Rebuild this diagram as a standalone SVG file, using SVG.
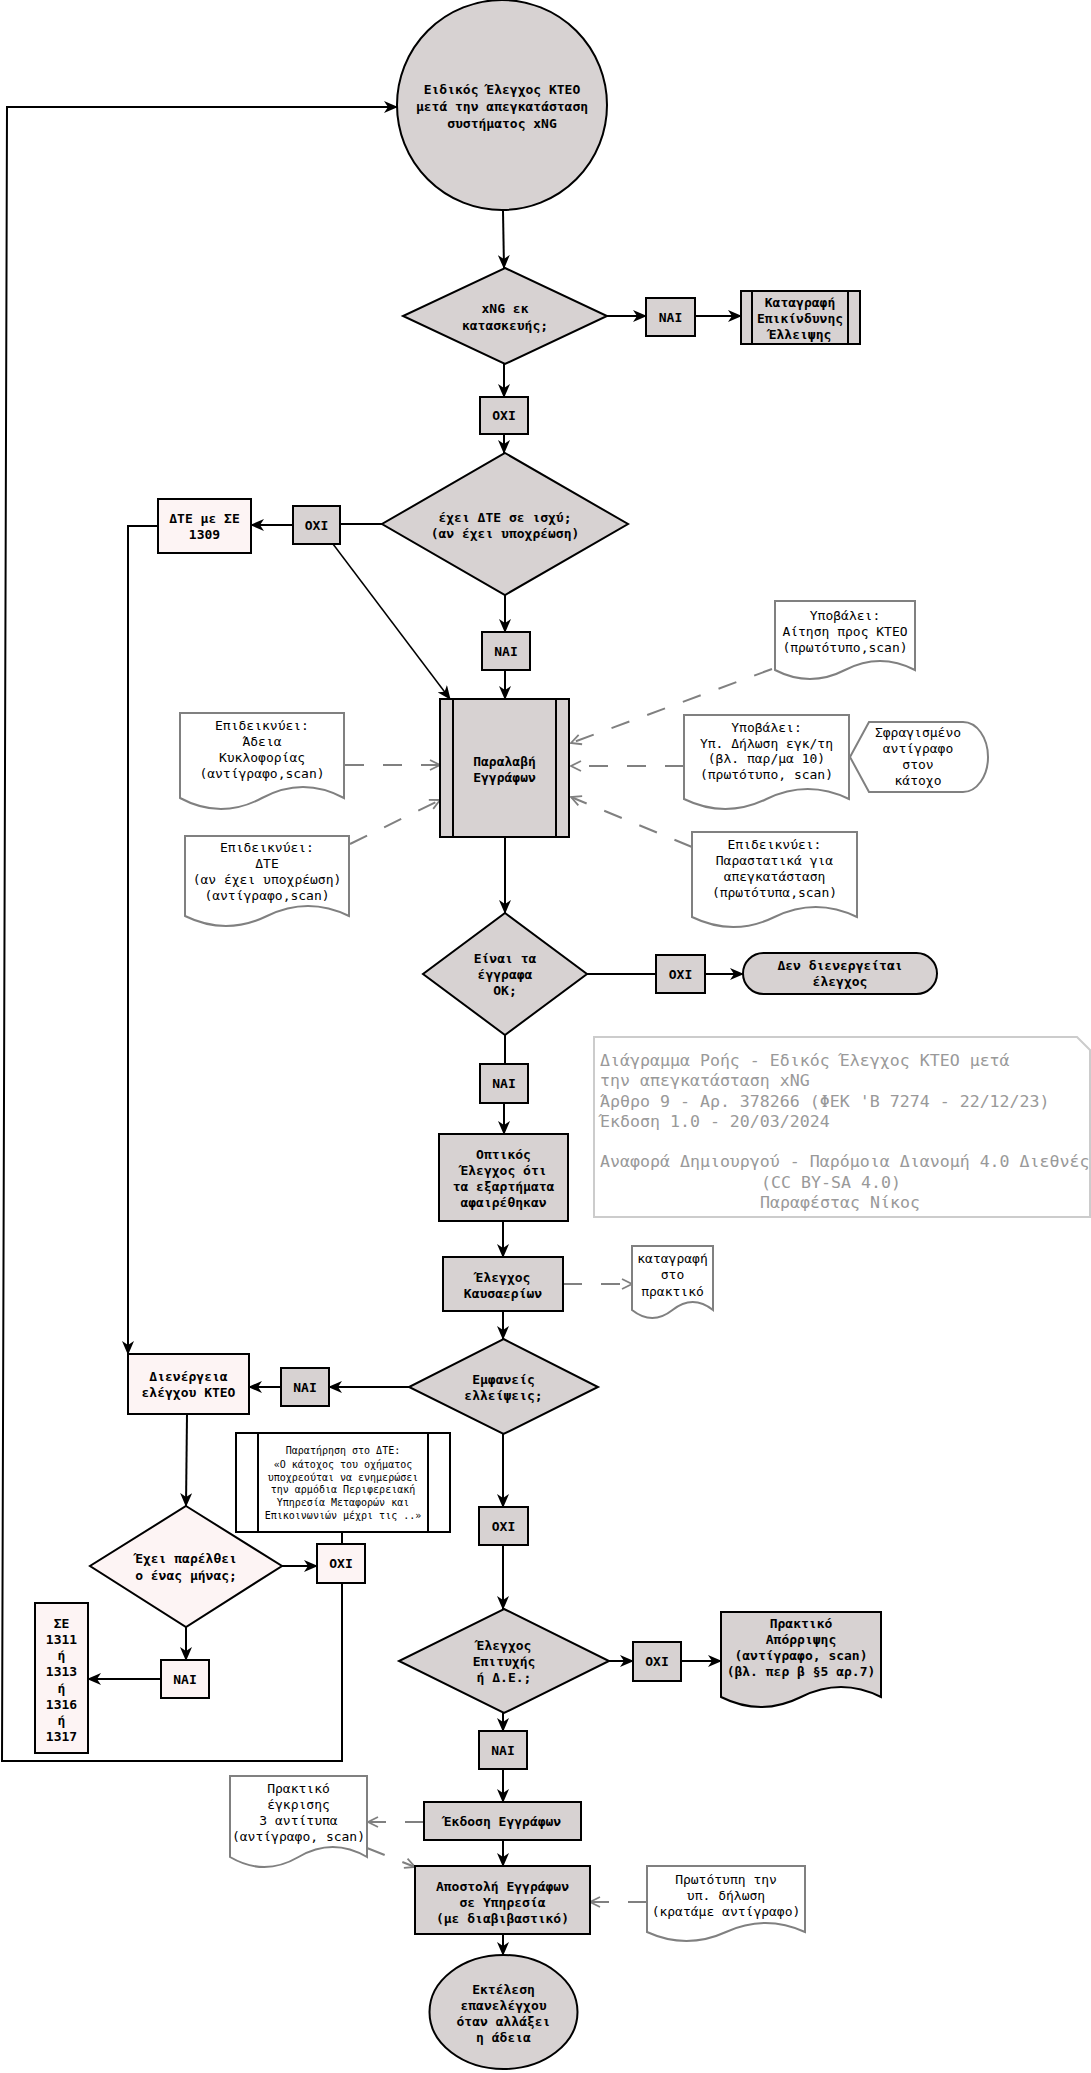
<svg xmlns="http://www.w3.org/2000/svg" width="1091" height="2073" viewBox="0 0 1091 2073">
<style>
.g{fill:#d7d2d2;stroke:#000;stroke-width:2}
.p{fill:#fdf4f4;stroke:#000;stroke-width:2}
.w{fill:#fff;stroke:#000;stroke-width:2}
.d{fill:#fff;stroke:#808080;stroke-width:2}
.c{fill:none;stroke:#000;stroke-width:2}
.ct{fill:none;stroke:#000;stroke-width:1.5}
.dc{fill:none;stroke:#808080;stroke-width:2;stroke-dasharray:19 19}
.nb{font-family:'DejaVu Sans Mono',monospace;font-weight:bold;font-size:13px;text-anchor:middle;dominant-baseline:central;fill:#000}
.nr{font-family:'DejaVu Sans Mono',monospace;font-size:13px;text-anchor:middle;dominant-baseline:central;fill:#000}
.sm{font-family:'DejaVu Sans Mono',monospace;font-size:10px;text-anchor:middle;dominant-baseline:central;fill:#000}
.an{font-family:'DejaVu Sans Mono',monospace;font-size:16.6px;dominant-baseline:central;fill:#999}
</style>
<defs>
<marker id="ah" viewBox="0 0 14 12" refX="13" refY="6" markerWidth="14" markerHeight="12" markerUnits="userSpaceOnUse" orient="auto"><path d="M0,0 L14,6 L0,12 L4,6 Z" fill="#000"/></marker>
<marker id="oa" viewBox="0 0 12 12" refX="11" refY="6" markerWidth="12" markerHeight="12" markerUnits="userSpaceOnUse" orient="auto"><path d="M1,1 L11,6 L1,11" fill="none" stroke="#808080" stroke-width="1.8"/></marker>
</defs>
<rect width="1091" height="2073" fill="#fff"/>

<g id="connectors">
<path class="c" d="M503,211 L504,268" marker-end="url(#ah)"/>
<path class="c" d="M607,316 L646,316" marker-end="url(#ah)"/>
<path class="c" d="M695,316 L741,316" marker-end="url(#ah)"/>
<path class="c" d="M504,364 L504,397" marker-end="url(#ah)"/>
<path class="c" d="M504,434 L504,453" marker-end="url(#ah)"/>
<path class="c" d="M382,524 L340,524"/>
<path class="c" d="M293,525 L251,525" marker-end="url(#ah)"/>
<path class="c" d="M158,526 L128,526 L128,1354" marker-end="url(#ah)"/>
<path class="ct" d="M333,544 L450,699" marker-end="url(#ah)"/>
<path class="c" d="M505,595 L505,632" marker-end="url(#ah)"/>
<path class="c" d="M505,670 L505,699" marker-end="url(#ah)"/>
<path class="c" d="M505,837 L505,913" marker-end="url(#ah)"/>
<path class="c" d="M587,974 L656,974"/>
<path class="c" d="M705,974 L743,974" marker-end="url(#ah)"/>
<path class="c" d="M505,1035 L505,1064"/>
<path class="c" d="M504,1103 L504,1134" marker-end="url(#ah)"/>
<path class="c" d="M503,1221 L503,1257" marker-end="url(#ah)"/>
<path class="c" d="M503,1311 L503,1339" marker-end="url(#ah)"/>
<path class="c" d="M409,1387 L329,1387" marker-end="url(#ah)"/>
<path class="c" d="M281,1387 L249,1387" marker-end="url(#ah)"/>
<path class="c" d="M187,1414 L186,1506" marker-end="url(#ah)"/>
<path class="c" d="M282,1566 L317,1566" marker-end="url(#ah)"/>
<path class="c" d="M342,1532 L342,1544"/>
<path class="c" d="M342,1583 L342,1761 L2,1761 L7,107 L397,107" marker-end="url(#ah)"/>
<path class="c" d="M186,1627 L186,1660" marker-end="url(#ah)"/>
<path class="c" d="M161,1679 L88,1679" marker-end="url(#ah)"/>
<path class="c" d="M503,1434 L503,1507" marker-end="url(#ah)"/>
<path class="c" d="M503,1545 L503,1609" marker-end="url(#ah)"/>
<path class="c" d="M609,1661 L633,1661" marker-end="url(#ah)"/>
<path class="c" d="M681,1661 L721,1661" marker-end="url(#ah)"/>
<path class="c" d="M503,1713 L503,1731" marker-end="url(#ah)"/>
<path class="c" d="M503,1769 L503,1802" marker-end="url(#ah)"/>
<path class="c" d="M503,1840 L503,1866" marker-end="url(#ah)"/>
<path class="c" d="M503,1934 L503,1955" marker-end="url(#ah)"/>
<path class="dc" d="M345,765 L440,765" marker-end="url(#oa)"/>
<path class="dc" d="M350,844 L440,800" marker-end="url(#oa)"/>
<path class="dc" d="M772,669 L571,743" marker-end="url(#oa)"/>
<path class="dc" d="M684,766 L571,766" marker-end="url(#oa)"/>
<path class="dc" d="M692,847 L571,797" marker-end="url(#oa)"/>
<path class="dc" d="M563,1284 L632,1284" marker-end="url(#oa)"/>
<path class="dc" d="M424,1822 L368,1822" marker-end="url(#oa)"/>
<path class="dc" d="M367,1848 L415,1867" marker-end="url(#oa)"/>
<path class="dc" d="M647,1902 L590,1902" marker-end="url(#oa)"/>
</g>

<g id="start">
<circle class="g" cx="502" cy="105" r="105"/>
<text class="nb" x="502" y="89">Ειδικός Έλεγχος ΚΤΕΟ</text>
<text class="nb" x="502" y="106">μετά την απεγκατάσταση</text>
<text class="nb" x="502" y="123">συστήματος xNG</text>
</g>
<g id="d-xng">
<polygon class="g" points="505,268 607,316 505,364 403,316"/>
<text class="nb" x="505" y="308">xNG εκ</text>
<text class="nb" x="505" y="325">κατασκευής;</text>
</g>
<g id="nai-1"><rect class="g" x="646" y="298" width="49" height="38"/><text class="nb" x="670.5" y="317">ΝΑΙ</text></g>
<g id="katagrafi">
<rect class="g" x="741" y="291" width="119" height="53"/>
<path class="c" d="M752,291 V344 M848,291 V344"/>
<text class="nb" x="800" y="302">Καταγραφή</text>
<text class="nb" x="800" y="318">Επικίνδυνης</text>
<text class="nb" x="800" y="334">Έλλειψης</text>
</g>
<g id="oxi-1"><rect class="g" x="480" y="397" width="48" height="37"/><text class="nb" x="504" y="415.5">ΟΧΙ</text></g>
<g id="d-dte">
<polygon class="g" points="505,453 628,524 505,595 382,524"/>
<text class="nb" x="505" y="517">έχει ΔΤΕ σε ισχύ;</text>
<text class="nb" x="505" y="533">(αν έχει υποχρέωση)</text>
</g>
<g id="oxi-2"><rect class="g" x="293" y="506" width="47" height="38"/><text class="nb" x="316.5" y="525">ΟΧΙ</text></g>
<g id="dte-1309">
<rect class="p" x="158" y="499" width="93" height="54"/>
<text class="nb" x="204.5" y="518">ΔΤΕ με ΣΕ</text>
<text class="nb" x="204.5" y="534">1309</text>
</g>
<g id="nai-2"><rect class="g" x="482" y="632" width="48" height="38"/><text class="nb" x="506" y="651">ΝΑΙ</text></g>
<g id="paralavi">
<rect class="g" x="440" y="699" width="129" height="138"/>
<path class="c" d="M453,699 V837 M556,699 V837"/>
<text class="nb" x="504.5" y="761">Παραλαβή</text>
<text class="nb" x="504.5" y="777">Εγγράφων</text>
</g>
<g id="doc-adeia">
<path class="d" d="M180,713 H344 V798 Q303,776 262,798 T180,798 Z"/>
<text class="nr" x="262" y="725">Επιδεικνύει:</text>
<text class="nr" x="262" y="741">Άδεια</text>
<text class="nr" x="262" y="757">Κυκλοφορίας</text>
<text class="nr" x="262" y="773">(αντίγραφο,scan)</text>
</g>
<g id="doc-dte">
<path class="d" d="M185,836 H349 V916 Q308,896 267,916 T185,916 Z"/>
<text class="nr" x="267" y="847">Επιδεικνύει:</text>
<text class="nr" x="267" y="863">ΔΤΕ</text>
<text class="nr" x="267" y="879">(αν έχει υποχρέωση)</text>
<text class="nr" x="267" y="895">(αντίγραφο,scan)</text>
</g>
<g id="doc-aitisi">
<path class="d" d="M775,601 H915 V670 Q880,652 845,670 T775,670 Z"/>
<text class="nr" x="845" y="615">Υποβάλει:</text>
<text class="nr" x="845" y="631">Αίτηση προς ΚΤΕΟ</text>
<text class="nr" x="845" y="647">(πρωτότυπο,scan)</text>
</g>
<g id="doc-dilosi">
<path class="d" d="M684,715 H849 V799 Q807.75,779 766.5,799 T684,799 Z"/>
<text class="nr" x="766.5" y="727">Υποβάλει:</text>
<text class="nr" x="766.5" y="743">Υπ. Δήλωση εγκ/τη</text>
<text class="nr" x="766.5" y="758">(βλ. παρ/μα 10)</text>
<text class="nr" x="766.5" y="774">(πρωτότυπο, scan)</text>
</g>
<g id="display-sfragismeno">
<path class="d" d="M850,757 L869,722 H963 A25,35 0 0 1 963,792 H869 Z"/>
<text class="nr" x="918" y="732">Σφραγισμένο</text>
<text class="nr" x="918" y="748">αντίγραφο</text>
<text class="nr" x="918" y="764">στον</text>
<text class="nr" x="918" y="780">κάτοχο</text>
</g>
<g id="doc-parastatika">
<path class="d" d="M692,832 H857 V917 Q815.75,897 774.5,917 T692,917 Z"/>
<text class="nr" x="774.5" y="844">Επιδεικνύει:</text>
<text class="nr" x="774.5" y="860">Παραστατικά για</text>
<text class="nr" x="774.5" y="876">απεγκατάσταση</text>
<text class="nr" x="774.5" y="892">(πρωτότυπα,scan)</text>
</g>
<g id="d-eggrafa">
<polygon class="g" points="505,913 587,974 505,1035 423,974"/>
<text class="nb" x="505" y="958">Είναι τα</text>
<text class="nb" x="505" y="974">έγγραφα</text>
<text class="nb" x="505" y="990">ΟΚ;</text>
</g>
<g id="oxi-3"><rect class="g" x="656" y="955" width="49" height="38"/><text class="nb" x="680.5" y="974">ΟΧΙ</text></g>
<g id="den-dienergeitai">
<rect class="g" x="743" y="953" width="194" height="41" rx="20.5"/>
<text class="nb" x="840" y="965">Δεν διενεργείται</text>
<text class="nb" x="840" y="981">έλεγχος</text>
</g>
<g id="nai-3"><rect class="g" x="480" y="1064" width="48" height="39"/><text class="nb" x="504" y="1083.5">ΝΑΙ</text></g>
<g id="optikos">
<rect class="g" x="439" y="1134" width="129" height="87"/>
<text class="nb" x="503.5" y="1154">Οπτικός</text>
<text class="nb" x="503.5" y="1170">Έλεγχος ότι</text>
<text class="nb" x="503.5" y="1186">τα εξαρτήματα</text>
<text class="nb" x="503.5" y="1202">αφαιρέθηκαν</text>
</g>
<g id="note-info">
<path d="M594,1037 H1077 L1090,1050 V1217 H594 Z" fill="#fff" stroke="#cccccc" stroke-width="2"/>
<text class="an" x="600" y="1060">Διάγραμμα Ροής - Εδικός Έλεγχος ΚΤΕΟ μετά</text>
<text class="an" x="600" y="1080">την απεγκατάσταση xNG</text>
<text class="an" x="600" y="1101">Άρθρο 9 - Αρ. 378266 (ΦΕΚ 'Β 7274 - 22/12/23)</text>
<text class="an" x="600" y="1121">Έκδοση 1.0 - 20/03/2024</text>
<text class="an" x="600" y="1161">Αναφορά Δημιουργού - Παρόμοια Διανομή 4.0 Διεθνές</text>
<text class="an" x="831" y="1182" text-anchor="middle">(CC BY-SA 4.0)</text>
<text class="an" x="840" y="1202" text-anchor="middle">Παραφέστας Νίκος</text>
</g>
<g id="kafsaerion">
<rect class="g" x="443" y="1257" width="120" height="54"/>
<text class="nb" x="503" y="1277">Έλεγχος</text>
<text class="nb" x="503" y="1293">Καυσαερίων</text>
</g>
<g id="doc-katagrafi">
<path class="d" d="M632,1246 H713 V1310 Q692.75,1294 672.5,1310 T632,1310 Z"/>
<text class="nr" x="672.5" y="1258">καταγραφή</text>
<text class="nr" x="672.5" y="1274">στο</text>
<text class="nr" x="672.5" y="1291">πρακτικό</text>
</g>
<g id="d-elleipseis">
<polygon class="g" points="503.5,1339 598,1387 503.5,1434 409,1387"/>
<text class="nb" x="503.5" y="1379">Εμφανείς</text>
<text class="nb" x="503.5" y="1395">ελλείψεις;</text>
</g>
<g id="nai-4"><rect class="g" x="281" y="1368" width="48" height="38"/><text class="nb" x="305" y="1387">ΝΑΙ</text></g>
<g id="dienergeia">
<rect class="p" x="128" y="1354" width="121" height="60"/>
<text class="nb" x="188.5" y="1376">Διενέργεια</text>
<text class="nb" x="188.5" y="1392">ελέγχου ΚΤΕΟ</text>
</g>
<g id="d-minas">
<polygon class="p" points="186,1506 282,1566 186,1627 90,1566"/>
<text class="nb" x="186" y="1558">Έχει παρέλθει</text>
<text class="nb" x="186" y="1575">ο ένας μήνας;</text>
</g>
<g id="oxi-5"><rect class="p" x="317" y="1544" width="48" height="39"/><text class="nb" x="341" y="1563.5">ΟΧΙ</text></g>
<g id="note-dte">
<rect class="w" x="236" y="1433" width="214" height="99"/>
<path class="c" d="M258,1433 V1532 M428,1433 V1532"/>
<text class="sm" x="343" y="1450">Παρατήρηση στο ΔΤΕ:</text>
<text class="sm" x="343" y="1464">«Ο κάτοχος του οχήματος</text>
<text class="sm" x="343" y="1477">υποχρεούται να ενημερώσει</text>
<text class="sm" x="343" y="1489">την αρμόδια Περιφερειακή</text>
<text class="sm" x="343" y="1502">Υπηρεσία Μεταφορών και</text>
<text class="sm" x="343" y="1515">Επικοινωνιών μέχρι τις ..»</text>
</g>
<g id="nai-5"><rect class="p" x="161" y="1660" width="48" height="38"/><text class="nb" x="185" y="1679">ΝΑΙ</text></g>
<g id="se-list">
<rect class="p" x="35" y="1603" width="53" height="150"/>
<text class="nb" x="61.5" y="1623">ΣΕ</text>
<text class="nb" x="61.5" y="1639">1311</text>
<text class="nb" x="61.5" y="1655">ή</text>
<text class="nb" x="61.5" y="1671">1313</text>
<text class="nb" x="61.5" y="1688">ή</text>
<text class="nb" x="61.5" y="1704">1316</text>
<text class="nb" x="61.5" y="1720">ή</text>
<text class="nb" x="61.5" y="1736">1317</text>
</g>
<g id="oxi-6"><rect class="g" x="479" y="1507" width="49" height="38"/><text class="nb" x="503.5" y="1526">ΟΧΙ</text></g>
<g id="d-epityxis">
<polygon class="g" points="504,1609 609,1661 504,1713 399,1661"/>
<text class="nb" x="504" y="1645">Έλεγχος</text>
<text class="nb" x="504" y="1661">Επιτυχής</text>
<text class="nb" x="504" y="1677">ή Δ.Ε.;</text>
</g>
<g id="oxi-7"><rect class="g" x="633" y="1642" width="48" height="39"/><text class="nb" x="657" y="1661.5">ΟΧΙ</text></g>
<g id="doc-aporripsi">
<path class="g" d="M721,1612 H881 V1697 Q841,1677 801,1697 T721,1697 Z"/>
<text class="nb" x="801" y="1623">Πρακτικό</text>
<text class="nb" x="801" y="1639">Απόρριψης</text>
<text class="nb" x="801" y="1655">(αντίγραφο, scan)</text>
<text class="nb" x="801" y="1671">(βλ. περ β §5 αρ.7)</text>
</g>
<g id="nai-6"><rect class="g" x="479" y="1731" width="48" height="38"/><text class="nb" x="503" y="1750">ΝΑΙ</text></g>
<g id="ekdosi">
<rect class="g" x="424" y="1802" width="157" height="38"/>
<text class="nb" x="502.5" y="1821">Έκδοση Εγγράφων</text>
</g>
<g id="doc-egkrisi">
<path class="d" d="M230,1776 H367 V1857 Q332.75,1837 298.5,1857 T230,1857 Z"/>
<text class="nr" x="298.5" y="1788">Πρακτικό</text>
<text class="nr" x="298.5" y="1804">έγκρισης</text>
<text class="nr" x="298.5" y="1820">3 αντίτυπα</text>
<text class="nr" x="298.5" y="1836">(αντίγραφο, scan)</text>
</g>
<g id="apostoli">
<rect class="g" x="415" y="1866" width="175" height="68"/>
<text class="nb" x="502.5" y="1886">Αποστολή Εγγράφων</text>
<text class="nb" x="502.5" y="1902">σε Υπηρεσία</text>
<text class="nb" x="502.5" y="1918">(με διαβιβαστικό)</text>
</g>
<g id="doc-prototypi">
<path class="d" d="M647,1866 H805 V1932 Q765.5,1914 726,1932 T647,1932 Z"/>
<text class="nr" x="726" y="1879">Πρωτότυπη την</text>
<text class="nr" x="726" y="1895">υπ. δήλωση</text>
<text class="nr" x="726" y="1911">(κρατάμε αντίγραφο)</text>
</g>
<g id="end">
<ellipse class="g" cx="503.5" cy="2012" rx="74" ry="57"/>
<text class="nb" x="503.5" y="1989">Εκτέλεση</text>
<text class="nb" x="503.5" y="2005">επανελέγχου</text>
<text class="nb" x="503.5" y="2021">όταν αλλάξει</text>
<text class="nb" x="503.5" y="2037">η άδεια</text>
</g>
</svg>
